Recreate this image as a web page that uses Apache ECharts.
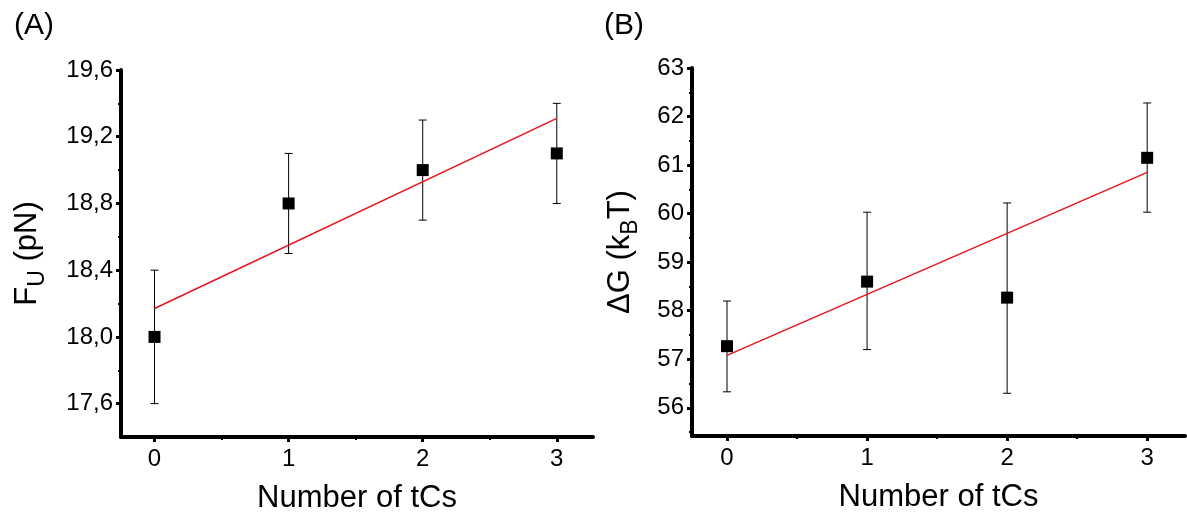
<!DOCTYPE html>
<html>
<head>
<meta charset="utf-8">
<script src="https://cdn.jsdelivr.net/npm/echarts@6/dist/echarts.min.js"></script>
<style>
  html, body { margin: 0; padding: 0; background: #fff; }
  #main { width: 1187px; height: 519px; }
</style>
</head>
<body>
<div id="main"></div>
<script>
// data
var tcs = [0, 1, 2, 3];
var forceA = [18.0, 18.8, 19.0, 19.1];
var forceLowA = [17.6, 18.5, 18.7, 18.8];
var forceHighA = [18.4, 19.1, 19.3, 19.4];
var fitA = [[0, 18.17], [3, 19.31]];

var energyB = [57.27, 58.6, 58.27, 61.15];
var energyLowB = [56.33, 57.2, 56.3, 60.03];
var energyHighB = [58.2, 60.03, 60.22, 62.28];
var fitB = [[0, 57.08], [3, 60.85]];

var xTicks = [0, 1, 2, 3];
var xMinor = [0.5, 1.5, 2.5];
var yTicksA = [17.6, 18.0, 18.4, 18.8, 19.2, 19.6];
var yMinorA = [17.8, 18.2, 18.6, 19.0, 19.4];
var yTicksB = [56, 57, 58, 59, 60, 61, 62, 63];
var yMinorB = [55.5, 56.5, 57.5, 58.5, 59.5, 60.5, 61.5, 62.5];

var FONT = 'Liberation Sans';

function pairs(xs, ys) {
    return xs.map(function(x, i) { return [x, ys[i]]; });
}

function errorItem(params, api) {
    var x = api.value(0);
    var lo = api.coord([x, api.value(1)]);
    var hi = api.coord([x, api.value(2)]);
    var cap = 4;
    var st = { stroke: '#000', lineWidth: 1 };
    return {
        type: 'group',
        children: [
            { type: 'line', shape: { x1: lo[0], y1: lo[1], x2: hi[0], y2: hi[1] }, style: st },
            { type: 'line', shape: { x1: lo[0] - cap, y1: lo[1], x2: lo[0] + cap, y2: lo[1] }, style: st },
            { type: 'line', shape: { x1: hi[0] - cap, y1: hi[1], x2: hi[0] + cap, y2: hi[1] }, style: st }
        ]
    };
}

function xAxes(grid) {
    return [{
        type: 'value', gridIndex: grid, min: -0.25, max: 3.27, position: 'bottom',
        name: 'Number of tCs', nameLocation: 'middle', nameGap: 46,
        nameTextStyle: { fontFamily: FONT, fontSize: 31, color: '#000' },
        axisLine: { onZero: false, lineStyle: { color: '#000', width: 4 } },
        axisTick: { customValues: xTicks, length: 5, lineStyle: { color: '#000', width: 3 } },
        axisLabel: { customValues: xTicks, margin: 10, fontFamily: FONT, fontSize: 24, color: '#000' },
        splitLine: { show: false }
    }, {
        type: 'value', gridIndex: grid, min: -0.25, max: 3.27, position: 'bottom',
        axisLine: { show: false, onZero: false },
        axisTick: { customValues: xMinor, length: 3, lineStyle: { color: '#000', width: 2 } },
        axisLabel: { show: false },
        splitLine: { show: false }
    }];
}

function yAxes(grid, min, max, ticks, minor, name, gap, fmt) {
    return [{
        type: 'value', gridIndex: grid, min: min, max: max, position: 'left',
        name: name, nameLocation: 'middle', nameGap: gap,
        nameTextStyle: {
            fontFamily: FONT, color: '#000',
            rich: {
                f: { fontFamily: FONT, fontSize: 31, color: '#000', lineHeight: 31, verticalAlign: 'top' },
                s: { fontFamily: FONT, fontSize: 23, color: '#000', lineHeight: 52, verticalAlign: 'middle' }
            }
        },
        axisLine: { onZero: false, lineStyle: { color: '#000', width: 4 } },
        axisTick: { customValues: ticks, length: 5, lineStyle: { color: '#000', width: 3 } },
        axisLabel: { customValues: ticks, margin: 8, fontFamily: FONT, fontSize: 24, color: '#000', formatter: fmt },
        splitLine: { show: false }
    }, {
        type: 'value', gridIndex: grid, min: min, max: max, position: 'left',
        axisLine: { show: false, onZero: false },
        axisTick: { customValues: minor, length: 3, lineStyle: { color: '#000', width: 2 } },
        axisLabel: { show: false },
        splitLine: { show: false }
    }];
}

var chart = echarts.init(document.getElementById('main'));

chart.setOption({
    backgroundColor: '#fff',
    animation: false,
    title: [
        { text: '(A)', left: 9, top: 6, textStyle: { fontFamily: FONT, fontSize: 30, fontWeight: 'normal', color: '#000' } },
        { text: '(B)', left: 599, top: 6, textStyle: { fontFamily: FONT, fontSize: 30, fontWeight: 'normal', color: '#000' } }
    ],
    grid: [
        { left: 121, right: 594, top: 70, bottom: 82 },
        { left: 692, right: 2, top: 68, bottom: 83 }
    ],
    xAxis: xAxes(0).concat(xAxes(1)),
    yAxis: yAxes(0, 17.4, 19.6, yTicksA, yMinorA, '{f|F}{s|U}{f| (pN)}', 57,
        function(v) { return v.toFixed(1).replace('.', ','); })
        .concat(yAxes(1, 55.42, 63, yTicksB, yMinorB, '{f|ΔG (k}{s|B}{f|T)}', 35,
        function(v) { return String(v); })),
    series: [
        {
            type: 'custom', xAxisIndex: 0, yAxisIndex: 0,
            renderItem: errorItem,
            data: tcs.map(function(x, i) { return [x, forceLowA[i], forceHighA[i]]; }),
            z: 2
        },
        {
            type: 'line', xAxisIndex: 0, yAxisIndex: 0, data: fitA,
            showSymbol: false, lineStyle: { color: '#e8141b', width: 1.5 }, z: 3
        },
        {
            type: 'scatter', xAxisIndex: 0, yAxisIndex: 0, data: pairs(tcs, forceA),
            symbol: 'rect', symbolSize: 12, itemStyle: { color: '#000', opacity: 1 }, z: 4
        },
        {
            type: 'custom', xAxisIndex: 2, yAxisIndex: 2,
            renderItem: errorItem,
            data: tcs.map(function(x, i) { return [x, energyLowB[i], energyHighB[i]]; }),
            z: 2
        },
        {
            type: 'line', xAxisIndex: 2, yAxisIndex: 2, data: fitB,
            showSymbol: false, lineStyle: { color: '#e8141b', width: 1.5 }, z: 3
        },
        {
            type: 'scatter', xAxisIndex: 2, yAxisIndex: 2, data: pairs(tcs, energyB),
            symbol: 'rect', symbolSize: 12, itemStyle: { color: '#000', opacity: 1 }, z: 4
        }
    ]
});
</script>
</body>
</html>
